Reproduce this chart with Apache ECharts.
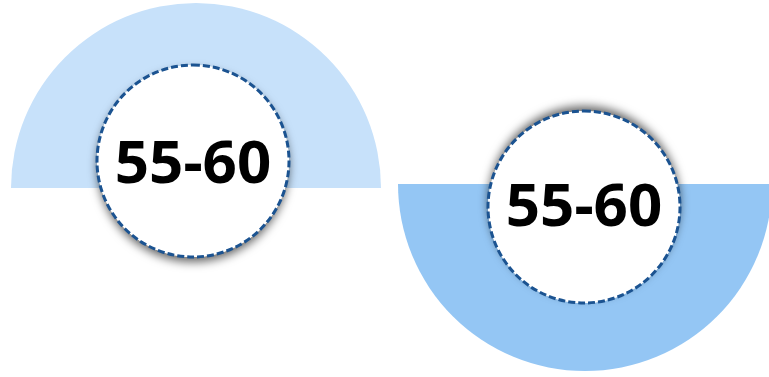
<!DOCTYPE html>
<html>
<head>
<meta charset="utf-8">
<script src="https://cdn.jsdelivr.net/npm/echarts@6/dist/echarts.min.js"></script>
<style>
  html, body { margin: 0; padding: 0; background: #fff; }
  #main { width: 769px; height: 377px; }
</style>
</head>
<body>
<div id="main"></div>
<script>
// age range labels shown in the two badges
var rangeLabels = ['55-60', '55-60'];
// each backdrop is half a disc: shown part / hidden part
var halfShares = [50, 50];
var halfColors = ['#c7e1fa', '#94c6f4'];

var myChart = echarts.init(document.getElementById('main'));

function halfDisc(center, radius, startAngle, color) {
    return {
        type: 'pie',
        silent: true,
        center: center,
        radius: radius,
        startAngle: startAngle,
        label: { show: false },
        labelLine: { show: false },
        data: [
            { value: halfShares[0], itemStyle: { color: color } },
            { value: halfShares[1], itemStyle: { color: 'rgba(0,0,0,0)' } }
        ]
    };
}

// white disc carrying only the drop shadow
function badgeShadow(center, shadowY) {
    return {
        type: 'pie',
        silent: true,
        center: center,
        radius: 96,
        label: { show: false },
        labelLine: { show: false },
        itemStyle: {
            color: '#fff',
            borderWidth: 0,
            shadowColor: 'rgba(0,0,0,0.6)',
            shadowBlur: 10,
            shadowOffsetY: shadowY
        },
        data: [{ value: 1 }]
    };
}

function badge(center, text, labelDy) {
    return {
        type: 'pie',
        silent: true,
        center: center,
        radius: 96,
        label: {
            show: true,
            position: 'center',
            formatter: '{b}',
            color: '#000',
            fontFamily: 'Noto Sans',
            fontWeight: 'bold',
            fontSize: 60,
            offset: [0, labelDy]
        },
        labelLine: { show: false },
        itemStyle: {
            color: '#fff',
            borderColor: '#1b5391',
            borderWidth: 3,
            borderType: [7, 3]
        },
        data: [{ name: text, value: 1 }]
    };
}

var option = {
    animation: false,
    series: [
        halfDisc([196, 188], 185, 180, halfColors[0]),
        halfDisc([585, 184], 187, 0, halfColors[1]),
        badgeShadow([193, 161], 5),
        badgeShadow([584, 207], -5),
        badge([193, 161], rangeLabels[0], 5),
        badge([584, 207], rangeLabels[1], 2)
    ]
};
myChart.setOption(option);
</script>
</body>
</html>
